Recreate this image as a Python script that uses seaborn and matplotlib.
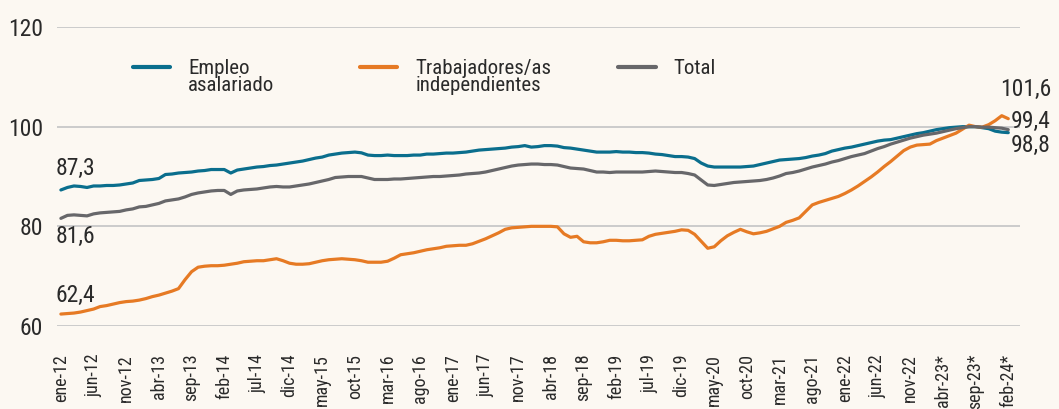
import numpy as np
import pandas as pd
import matplotlib
matplotlib.use("Agg")
import matplotlib.pyplot as plt
import seaborn as sns

# monthly index values, ene-12 .. feb-24
asalariado = [
    87.3, 87.8, 88.1, 88.0, 87.8, 88.1, 88.1, 88.2, 88.2, 88.3, 88.5, 88.7,
    89.2, 89.3, 89.4, 89.6, 90.4, 90.5, 90.7, 90.8, 90.9, 91.1, 91.2, 91.4,
    91.4, 91.4, 90.7, 91.3, 91.5, 91.7, 91.9, 92.0, 92.2, 92.3, 92.5, 92.7,
    92.9, 93.1, 93.4, 93.7, 93.9, 94.3, 94.5, 94.7, 94.8, 94.9, 94.75, 94.3,
    94.2, 94.2, 94.3, 94.2, 94.2, 94.2, 94.3, 94.3, 94.5, 94.5, 94.6, 94.7,
    94.7, 94.8, 94.9, 95.1, 95.3, 95.4, 95.5, 95.6, 95.7, 95.9, 96.0, 96.2,
    95.9, 96.0, 96.2, 96.2, 96.1, 95.8, 95.7, 95.5, 95.3, 95.1, 94.9, 94.9,
    94.9, 95.0, 94.9, 94.9, 94.8, 94.8, 94.7, 94.5, 94.4, 94.2, 94.0, 94.0,
    93.9, 93.6, 92.7, 92.1, 91.9, 91.9, 91.9, 91.9, 91.9, 92.0, 92.1, 92.4,
    92.7, 93.0, 93.3, 93.4, 93.5, 93.6, 93.8, 94.1, 94.3, 94.6, 95.1, 95.4,
    95.7, 95.9, 96.2, 96.5, 96.8, 97.1, 97.3, 97.4, 97.7, 98.0, 98.3, 98.6,
    98.8, 99.1, 99.4, 99.6, 99.8, 99.9, 100.0, 100.0, 100.0, 99.8, 99.6, 99.1,
    98.9, 98.8,
]
independientes = [
    62.4, 62.5, 62.6, 62.8, 63.1, 63.4, 63.9, 64.1, 64.4, 64.7, 64.9, 65.0,
    65.2, 65.5, 65.9, 66.2, 66.6, 67.0, 67.5, 69.3, 70.9, 71.8, 72.0, 72.1,
    72.1, 72.2, 72.4, 72.6, 72.9, 73.0, 73.1, 73.1, 73.3, 73.5, 73.1, 72.6,
    72.4, 72.4, 72.5, 72.8, 73.1, 73.3, 73.4, 73.5, 73.4, 73.3, 73.1, 72.8,
    72.8, 72.8, 73.0, 73.6, 74.3, 74.5, 74.7, 75.0, 75.3, 75.5, 75.7, 76.0,
    76.1, 76.2, 76.2, 76.5, 77.0, 77.5, 78.1, 78.7, 79.4, 79.7, 79.8, 79.9,
    80.0, 80.0, 80.0, 80.0, 79.9, 78.5, 77.8, 78.0, 76.9, 76.7, 76.7, 76.9,
    77.2, 77.2, 77.1, 77.1, 77.2, 77.3, 78.0, 78.4, 78.6, 78.8, 79.0, 79.3,
    79.2, 78.4, 77.0, 75.6, 75.9, 77.1, 78.1, 78.8, 79.4, 78.9, 78.5, 78.7,
    79.0, 79.5, 80.0, 80.8, 81.2, 81.7, 83.0, 84.3, 84.8, 85.2, 85.6, 86.0,
    86.6, 87.3, 88.1, 89.0, 89.9, 90.9, 92.0, 93.0, 94.1, 95.2, 95.9, 96.3,
    96.4, 96.5, 97.2, 97.7, 98.2, 98.7, 99.5, 100.3, 100.0, 99.9, 100.4, 101.2,
    102.2, 101.6,
]
total = [
    81.6, 82.2, 82.3, 82.2, 82.1, 82.5, 82.7, 82.8, 82.9, 83.0, 83.3, 83.5,
    83.9, 84.0, 84.3, 84.6, 85.1, 85.3, 85.5, 85.9, 86.4, 86.7, 86.9, 87.1,
    87.2, 87.2, 86.4, 87.1, 87.3, 87.4, 87.5, 87.7, 87.9, 88.0, 87.9, 87.9,
    88.1, 88.3, 88.5, 88.8, 89.1, 89.4, 89.8, 89.9, 90.0, 90.0, 90.0, 89.7,
    89.4, 89.4, 89.4, 89.5, 89.5, 89.6, 89.7, 89.8, 89.9, 90.0, 90.0, 90.1,
    90.2, 90.3, 90.5, 90.6, 90.7, 90.9, 91.2, 91.5, 91.8, 92.1, 92.3, 92.4,
    92.5, 92.5, 92.4, 92.4, 92.3, 92.0, 91.7, 91.6, 91.5, 91.2, 90.9, 90.9,
    90.8, 90.9, 90.9, 90.9, 90.9, 90.9, 91.0, 91.1, 91.0, 90.9, 90.8, 90.8,
    90.6, 90.3, 89.3, 88.3, 88.2, 88.4, 88.6, 88.8, 88.9, 89.0, 89.1, 89.2,
    89.4, 89.7, 90.1, 90.6, 90.8, 91.1, 91.5, 91.9, 92.2, 92.5, 92.9, 93.2,
    93.6, 94.0, 94.3, 94.6, 95.1, 95.6, 96.0, 96.5, 96.9, 97.3, 97.7, 98.0,
    98.3, 98.5, 98.7, 99.0, 99.3, 99.6, 99.8, 100.0, 100.0, 99.9, 99.9, 99.8,
    99.7, 99.4,
]

tick_labels = ["ene-12", "jun-12", "nov-12", "abr-13", "sep-13", "feb-14", "jul-14",
               "dic-14", "may-15", "oct-15", "mar-16", "ago-16", "ene-17", "jun-17",
               "nov-17", "abr-18", "sep-18", "feb-19", "jul-19", "dic-19", "may-20",
               "oct-20", "mar-21", "ago-21", "ene-22", "jun-22", "nov-22", "abr-23*",
               "sep-23*", "feb-24*"]
series_names = ["Empleo\nasalariado", "Trabajadores/as\nindependientes", "Total"]
colors = ["#0A6E8D", "#E67A24", "#67676A"]

n = len(total)
df = pd.DataFrame({
    "mes": np.tile(np.arange(n), 3),
    "indice": asalariado + independientes + total,
    "serie": np.repeat(series_names, n),
})

bg = "#FCF8F2"
sns.set_style("white")
plt.rcParams["font.family"] = ["Roboto Condensed", "Liberation Sans Narrow", "DejaVu Sans"]
plt.rcParams["text.color"] = "#2a2a2a"

fig = plt.figure(figsize=(10.59, 4.09), dpi=100, facecolor=bg)
ax = fig.add_axes([0.0538, 0.2029, 0.9094, 0.7311])
ax.set_facecolor(bg)

sns.lineplot(data=df, x="mes", y="indice", hue="serie", hue_order=series_names,
             palette=dict(zip(series_names, colors)), linewidth=2.3, ax=ax, legend=True)

ax.set_xlim(-0.6, 146.8)
ax.set_ylim(60, 120)
ax.set_yticks([60, 80, 100, 120])
ax.set_xticks(np.arange(0, n, 5))
ax.set_xticklabels(tick_labels, rotation=90, va="top", ha="center")
ax.tick_params(axis="x", length=0, pad=20, labelsize=13, labelcolor="#2a2a2a")
ax.tick_params(axis="y", length=0, pad=10, labelsize=17, labelcolor="#2a2a2a")
ax.set_xlabel("")
ax.set_ylabel("")
ax.grid(axis="y", color="#CBCBCB", linewidth=1.4)
ax.grid(axis="x", visible=False)
sns.despine(ax=ax, left=True, bottom=True)

def fmt(v):
    return f"{v:.1f}".replace(".", ",")

# value labels at start and end
start_offsets = [(-4, 7, "bottom"), (-4, -5, "top"), (-4, 5, "bottom")]
for vals, (dx, dy, va) in zip([asalariado, total, independientes], start_offsets):
    ax.annotate(fmt(vals[0]), xy=(0, vals[0]), xytext=(dx, dy), textcoords="offset points",
                ha="left", va=va, fontsize=17)
end_offsets = [(-6, 13, "bottom"), (2, 6, "center"), (2, -9, "center")]
for vals, (dx, dy, va) in zip([independientes, total, asalariado], end_offsets):
    ax.annotate(fmt(vals[-1]), xy=(n - 1, vals[-1]), xytext=(dx, dy), textcoords="offset points",
                ha="left", va=va, fontsize=17, annotation_clip=False)

# one legend per series, placed like the original
handles, labels = ax.get_legend_handles_labels()
ax.get_legend().remove()
legend_x = [0.0789, 0.3146, 0.5826]
for k, (h, lab, lx) in enumerate(zip(handles, labels, legend_x)):
    leg = ax.legend([h], [lab], loc="upper left", bbox_to_anchor=(lx, 0.892), frameon=False,
                    fontsize=15, handlelength=1.8, handletextpad=0.85,
                    borderpad=0, borderaxespad=0)
    for t in leg.get_texts():
        t.set_linespacing(0.85)
    for col in leg._legend_handle_box.get_children():
        for row in col.get_children():
            row.align = "top"
    for line in leg.get_lines():
        line.set_linewidth(3)
    # the last one stays as the axes legend, the others are kept as extra artists
    if k < len(handles) - 1:
        ax.add_artist(leg)

fig.savefig("out.png", dpi=100, facecolor=bg)
